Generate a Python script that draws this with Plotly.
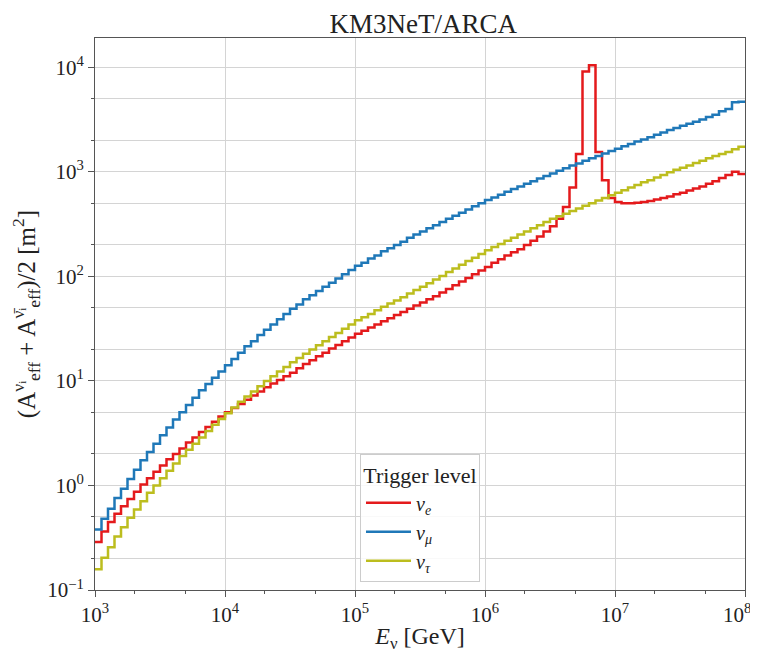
import numpy as np
import plotly.graph_objects as go

# 100 log-spaced energy bins from 1e3 to 1e8 GeV (20 per decade)
energy_min_log10 = 3
energy_max_log10 = 8
n_bins = 100

nu_e = [0.288, 0.363, 0.447, 0.537, 0.631, 0.741, 0.871, 1.02, 1.175, 1.35,
        1.55, 1.78, 2.00, 2.26, 2.57, 2.88, 3.24, 3.63, 4.07, 4.57,
        5.01, 5.50, 6.03, 6.61, 7.24, 7.94, 8.71, 9.44, 10.2, 11.1,
        12.0, 13.2, 14.5, 15.8, 17.2, 18.6, 20.4, 22.1, 24.0, 26.0,
        28.2, 30.2, 32.4, 34.7, 37.2, 39.8, 42.7, 45.7, 49.0, 52.5,
        56.2, 60.3, 64.6, 70.0, 75.9, 82.2, 89.1, 96.6, 105, 114,
        123, 135, 146, 158, 170, 182, 200, 219, 240, 269,
        302, 355, 462, 708, 1479, 9120, 10470, 1549, 832, 562,
        513, 501, 501, 505, 513, 525, 543, 562, 582, 610,
        631, 661, 692, 724, 767, 813, 871, 933, 1000, 955]

nu_mu = [0.38, 0.48, 0.60, 0.76, 0.93, 1.15, 1.41, 1.74, 2.09, 2.51,
         3.02, 3.59, 4.27, 5.01, 5.89, 6.92, 8.13, 9.33, 10.7, 12.3,
         14.1, 16.2, 18.6, 21.4, 24.0, 27.5, 30.9, 34.7, 38.9, 43.7,
         49.0, 53.7, 60.3, 66.1, 72.4, 79.4, 87.1, 95.5, 105, 115,
         126, 135, 148, 158, 174, 186, 200, 214, 234, 251,
         269, 288, 309, 331, 355, 380, 407, 437, 468, 501,
         537, 569, 603, 646, 684, 724, 767, 813, 861, 912,
         966, 1023, 1084, 1148, 1202, 1274, 1349, 1413, 1496, 1585,
         1660, 1758, 1841, 1950, 2042, 2138, 2265, 2371, 2512, 2630,
         2754, 2884, 3020, 3162, 3350, 3508, 3802, 3981, 4624, 4677]

nu_tau = [0.158, 0.204, 0.257, 0.324, 0.398, 0.490, 0.589, 0.708, 0.851, 1.00,
          1.175, 1.38, 1.62, 1.91, 2.19, 2.51, 2.88, 3.31, 3.80, 4.32,
          4.90, 5.56, 6.31, 7.08, 7.94, 8.91, 10.0, 11.1, 12.3, 13.6,
          15.1, 16.6, 18.2, 20.0, 21.9, 24.0, 26.3, 28.8, 31.6, 34.7,
          38.0, 40.7, 43.7, 47.3, 51.3, 55.0, 58.9, 63.1, 68.4, 74.1,
          79.4, 86.1, 93.3, 101, 110, 119, 129, 140, 151, 164,
          178, 191, 204, 219, 234, 251, 269, 288, 309, 331,
          355, 376, 398, 422, 447, 473, 501, 531, 562, 596,
          631, 668, 708, 750, 794, 832, 881, 933, 989, 1047,
          1096, 1148, 1216, 1274, 1349, 1413, 1479, 1549, 1641, 1738]

series_names = ["<i>ν<sub>e</sub></i>", "<i>ν<sub>μ</sub></i>", "<i>ν<sub>τ</sub></i>"]
series_colors = ["#e41a1c", "#1f78b8", "#bcbd1e"]

x_tick_vals = [1e3, 1e4, 1e5, 1e6, 1e7, 1e8]
x_tick_text = ["10<sup>3</sup>", "10<sup>4</sup>", "10<sup>5</sup>", "10<sup>6</sup>",
               "10<sup>7</sup>", "10<sup>8</sup>&nbsp;&nbsp;&nbsp;"]
y_tick_vals = [1e-1, 1e0, 1e1, 1e2, 1e3, 1e4]
y_tick_text = ["10<sup>−1</sup>", "10<sup>0</sup>", "10<sup>1</sup>", "10<sup>2</sup>",
               "10<sup>3</sup>", "10<sup>4</sup>"]

edges = np.logspace(energy_min_log10, energy_max_log10, n_bins + 1)

FONT = "Liberation Serif"
fig = go.Figure()
for vals, name, col in zip([nu_e, nu_mu, nu_tau], series_names, series_colors):
    fig.add_trace(go.Scatter(
        x=edges, y=list(vals) + [vals[-1]],
        mode="lines", line=dict(color=col, width=2.5, shape="hv"),
        name=name))

axis_common = dict(
    type="log", automargin=False, ticklabeloverflow="allow",
    showline=True, mirror=True, linecolor="#555555", linewidth=1,
    ticks="outside", ticklen=6, tickcolor="#555555",
    gridcolor="#d4d4d4", gridwidth=1, zeroline=False,
    tickfont=dict(family=FONT, size=21, color="#222222"),
)

fig.update_layout(
    width=750, height=645,
    margin=dict(l=87, r=13, t=30, b=63),
    paper_bgcolor="white", plot_bgcolor="white",
    font=dict(family=FONT, color="#222222"),
    title=dict(text="KM3NeT/ARCA", x=0.5537, xanchor="center", y=0.976, yanchor="middle",
               font=dict(family=FONT, size=27, color="#222222")),
    xaxis=dict(axis_common, range=[3, 8], tickvals=x_tick_vals, ticktext=x_tick_text,
               minor=dict(ticks="outside", ticklen=3, tickcolor="#555555", showgrid=False),
               title=dict(text="<i>E</i><sub>ν</sub> [GeV]", font=dict(family=FONT, size=24), standoff=4)),
    yaxis=dict(axis_common, range=[-1, 4.28], tickvals=y_tick_vals, ticktext=y_tick_text,
               minor=dict(ticks="outside", ticklen=3, tickcolor="#555555", showgrid=True,
                          gridcolor="#d4d4d4", gridwidth=1),
               title=dict(text="(A<sup>νᵢ</sup><sub>eff</sub> + A<sup>ν̄ᵢ</sup><sub>eff</sub>)/2 [m<sup>2</sup>]",
                          font=dict(family=FONT, size=25), standoff=6)),
    legend=dict(
        title=dict(text="Trigger level", font=dict(family=FONT, size=22), side="top center"),
        font=dict(family=FONT, size=20),
        x=0.5, xanchor="center", y=0.015, yanchor="bottom",
        bgcolor="rgba(255,255,255,0.85)", bordercolor="#cccccc", borderwidth=1,
        itemwidth=45, tracegroupgap=4,
    ),
    showlegend=True,
)

fig.write_html("out.html")
